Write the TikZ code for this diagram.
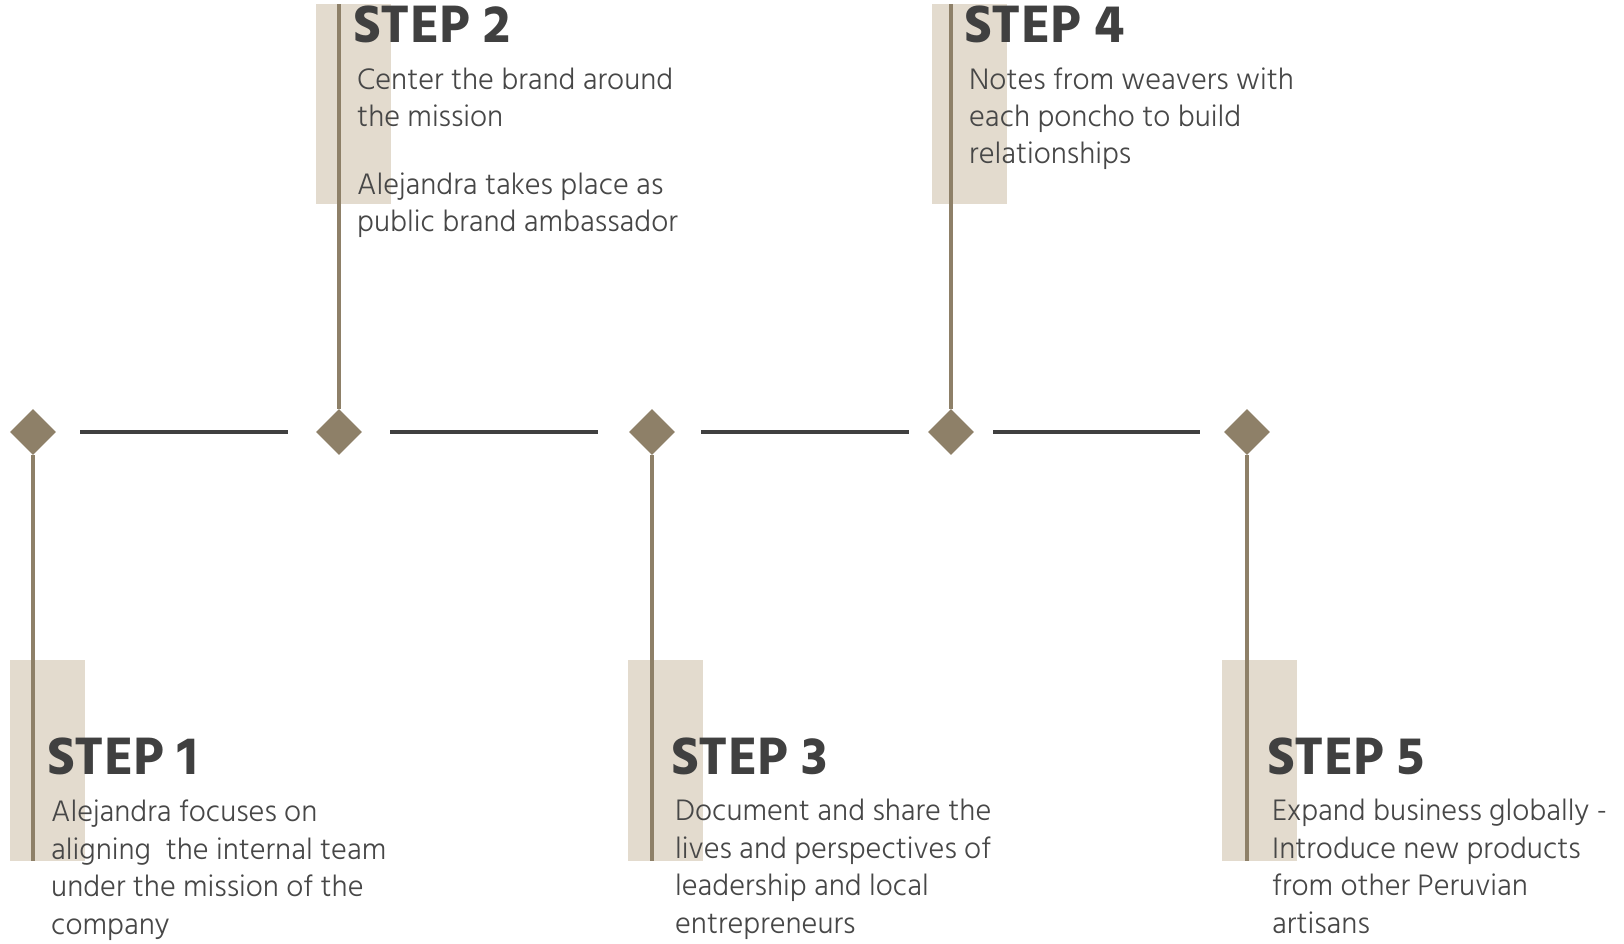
\documentclass[tikz,border=0pt]{standalone}
\usepackage{fontspec}
\usepackage{xcolor}
\usetikzlibrary{shapes.geometric}
\newfontfamily\bodyfont{Hind Madurai}[UprightFont=* Light]
\newfontfamily\headfont{Hind Madurai}[UprightFont=* Bold]
\definecolor{mudbrown}{HTML}{8E8068}
\definecolor{sand}{HTML}{E3DBCE}
\definecolor{inkgray}{HTML}{404040}
\definecolor{txtgray}{HTML}{474747}

\begin{document}
\begin{tikzpicture}[x=1pt,y=-1pt,
  marker/.style={diamond,fill=mudbrown,inner sep=0pt,minimum width=46pt,minimum height=46pt},
  bar/.style={draw=inkgray,line width=3.7pt},
  stem/.style={draw=mudbrown,line width=3.7pt},
  band/.style={fill=sand},
  heading/.style={anchor=base west,inner sep=0pt,text=inkgray,font=\headfont\fontsize{54}{54}\selectfont},
  blurb/.style={anchor=base west,inner sep=0pt,align=left,text=txtgray,font=\bodyfont\fontsize{30.4}{37.4}\selectfont}]

\useasboundingbox (0,0) rectangle (1624,943);

\fill[band] (10,660) rectangle (85,861);
\fill[band] (316,4) rectangle (391,204);
\fill[band] (628,660) rectangle (703,861);
\fill[band] (932,4) rectangle (1007,204);
\fill[band] (1222,660) rectangle (1297,861);

\node[marker] (d1) at (33,432) {};
\node[marker] (d2) at (339,432) {};
\node[marker] (d3) at (652,432) {};
\node[marker] (d4) at (951,432) {};
\node[marker] (d5) at (1247,432) {};

\coordinate (e1) at (33,861);
\coordinate (e2) at (339,4);
\coordinate (e3) at (652,861);
\coordinate (e4) at (951,4);
\coordinate (e5) at (1247,861);

\draw[stem] (d1) -- (e1);
\draw[stem] (d2) -- (e2);
\draw[stem] (d3) -- (e3);
\draw[stem] (d4) -- (e4);
\draw[stem] (d5) -- (e5);

\draw[bar,shorten <=24pt,shorten >=28pt] (d1) -- (d2);
\draw[bar,shorten <=28pt,shorten >=31pt] (d2) -- (d3);
\draw[bar,shorten <=26pt,shorten >=19pt] (d3) -- (d4);
\draw[bar,shorten <=19pt,shorten >=24pt] (d4) -- (d5);

\node[heading] (h1) at (47,774) {STEP 1};
\node[heading] (h2) at (353,42) {STEP 2};
\node[heading] (h3) at (671,774) {STEP 3};
\node[heading] (h4) at (964,42) {STEP 4};
\node[heading] (h5) at (1267,774) {STEP 5};

% base anchor sits on the last line
\node[blurb] (t1) at (51,934) {Alejandra focuses on\\aligning\ \ the internal team\\under the mission of the\\company};
\node[blurb] (t2) at (357,126.4) {Center the brand around\\the mission};
\node[blurb] (t2b) at (357,231.4) {Alejandra takes place as\\public brand ambassador};
\node[blurb] (t3) at (675,933) {Document and share the\\lives and perspectives of\\leadership and local\\entrepreneurs};
\node[blurb] (t4) at (969,163.8) {Notes from weavers with\\each poncho to build\\relationships};
\node[blurb] (t5) at (1272,933) {Expand business globally -\\Introduce new products\\from other Peruvian\\artisans};

\end{tikzpicture}
\end{document}
